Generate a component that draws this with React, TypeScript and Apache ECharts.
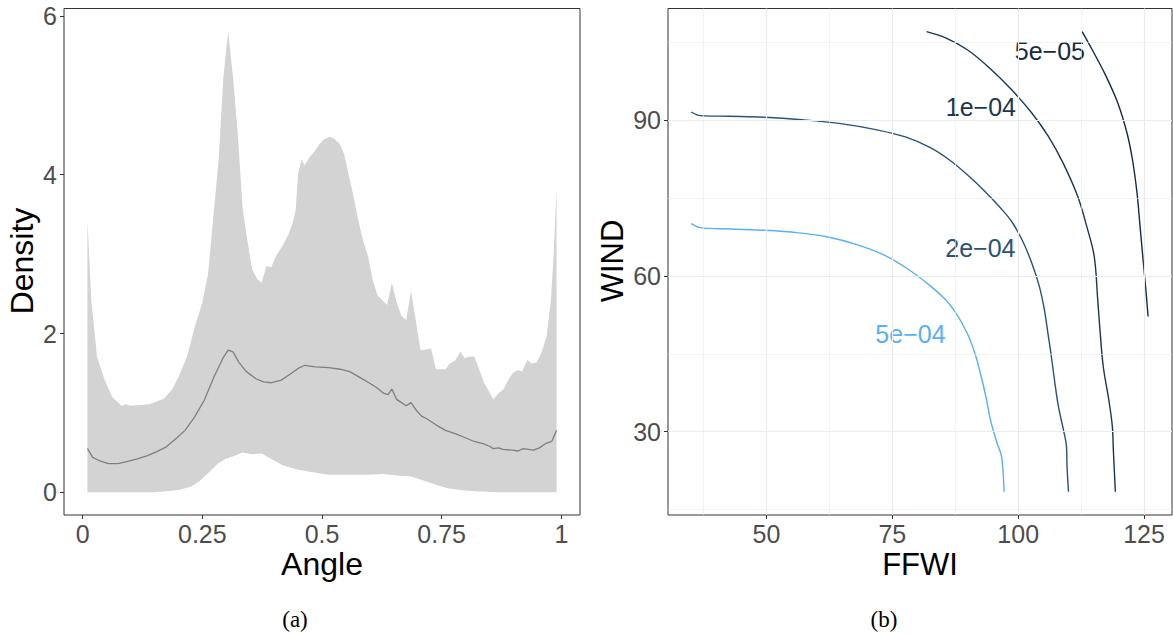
import React, { useEffect, useRef } from "react";
import * as echarts from "echarts";

// ---------- Panel (a): density band and median ----------
const upperX = [0.01, 0.018, 0.03, 0.046, 0.062, 0.081, 0.09, 0.1, 0.12, 0.14, 0.154, 0.17, 0.186, 0.2, 0.218, 0.234, 0.25, 0.262, 0.273, 0.284, 0.294, 0.304, 0.314, 0.324, 0.334, 0.342, 0.354, 0.364, 0.374, 0.384, 0.394, 0.404, 0.418, 0.43, 0.438, 0.445, 0.45, 0.457, 0.464, 0.474, 0.484, 0.494, 0.505, 0.516, 0.526, 0.537, 0.546, 0.554, 0.564, 0.576, 0.586, 0.596, 0.606, 0.616, 0.626, 0.636, 0.646, 0.656, 0.666, 0.676, 0.686, 0.696, 0.706, 0.716, 0.728, 0.738, 0.758, 0.766, 0.778, 0.789, 0.798, 0.808, 0.818, 0.829, 0.838, 0.849, 0.858, 0.869, 0.878, 0.889, 0.898, 0.909, 0.918, 0.929, 0.938, 0.949, 0.958, 0.969, 0.978, 0.984, 0.99];
const upperY = [3.42, 2.42, 1.71, 1.41, 1.2, 1.09, 1.11, 1.09, 1.1, 1.11, 1.14, 1.18, 1.29, 1.45, 1.71, 2.08, 2.39, 2.75, 3.47, 4.18, 5.23, 5.8, 5.23, 4.52, 3.59, 3.25, 2.81, 2.69, 2.64, 2.85, 2.83, 2.98, 3.11, 3.25, 3.38, 3.55, 4.01, 4.19, 4.12, 4.22, 4.29, 4.38, 4.45, 4.48, 4.45, 4.39, 4.26, 4.05, 3.78, 3.42, 3.17, 2.98, 2.67, 2.48, 2.42, 2.36, 2.64, 2.39, 2.22, 2.17, 2.54, 2.16, 1.79, 1.8, 1.81, 1.55, 1.55, 1.62, 1.66, 1.77, 1.69, 1.71, 1.71, 1.54, 1.39, 1.27, 1.17, 1.25, 1.29, 1.41, 1.5, 1.54, 1.52, 1.67, 1.62, 1.64, 1.75, 1.96, 2.4, 3.0, 3.82];

const lowerX = [0.01, 0.15, 0.17, 0.2, 0.226, 0.242, 0.262, 0.282, 0.298, 0.314, 0.334, 0.354, 0.374, 0.394, 0.418, 0.446, 0.474, 0.514, 0.554, 0.594, 0.626, 0.658, 0.686, 0.706, 0.73, 0.762, 0.802, 0.866, 0.99];
const lowerY = [0, 0, 0.01, 0.03, 0.07, 0.13, 0.24, 0.36, 0.42, 0.45, 0.5, 0.48, 0.49, 0.42, 0.34, 0.29, 0.26, 0.22, 0.22, 0.22, 0.23, 0.21, 0.2, 0.16, 0.11, 0.05, 0.02, 0, 0];

const medianX = [0.01, 0.021, 0.034, 0.054, 0.074, 0.094, 0.114, 0.134, 0.154, 0.174, 0.194, 0.214, 0.234, 0.254, 0.274, 0.294, 0.304, 0.314, 0.326, 0.342, 0.362, 0.378, 0.394, 0.414, 0.434, 0.45, 0.464, 0.486, 0.514, 0.538, 0.558, 0.578, 0.598, 0.614, 0.628, 0.638, 0.646, 0.656, 0.666, 0.676, 0.686, 0.696, 0.708, 0.718, 0.738, 0.758, 0.778, 0.798, 0.818, 0.838, 0.85, 0.858, 0.869, 0.878, 0.898, 0.91, 0.92, 0.942, 0.954, 0.969, 0.98, 0.99];
const medianY = [0.55, 0.44, 0.4, 0.36, 0.36, 0.39, 0.42, 0.46, 0.51, 0.57, 0.67, 0.78, 0.95, 1.16, 1.45, 1.7, 1.79, 1.77, 1.64, 1.52, 1.43, 1.39, 1.38, 1.41, 1.49, 1.56, 1.6, 1.58, 1.57, 1.55, 1.52, 1.45, 1.38, 1.32, 1.25, 1.23, 1.3, 1.17, 1.13, 1.09, 1.13, 1.04, 0.96, 0.93, 0.85, 0.78, 0.74, 0.69, 0.64, 0.61, 0.58, 0.55, 0.56, 0.54, 0.53, 0.52, 0.55, 0.53, 0.56, 0.62, 0.64, 0.78];

const angleTicks = [0, 0.25, 0.5, 0.75, 1];
const densityTicks = [0, 2, 4, 6];

// ---------- Panel (b): contours ----------
const c5e04X = [35.06, 36.88, 42.6, 49.85, 56.4, 62.2, 68.1, 73.2, 78.3, 82.65, 85.6, 87.8, 89.9, 91.4, 92.5, 93.6, 94.5, 95.8, 96.7, 97.2];
const c5e04Y = [70.09, 69.32, 69.06, 68.8, 68.3, 67.5, 66.0, 64.1, 61.2, 58.0, 55.4, 52.6, 48.9, 45.1, 41.2, 36.7, 32.2, 27.8, 25.2, 18.4];

const c2e04X = [35.06, 36.88, 42.6, 49.85, 57.1, 64.4, 71.7, 77.6, 82.65, 86.3, 89.9, 93.6, 96.5, 98.7, 100.9, 102.7, 104.2, 105.2, 105.9, 106.5, 107.2, 108.0, 109.0, 109.6, 109.7, 110.0];
const c2e04Y = [91.6, 90.9, 90.77, 90.58, 90.1, 89.4, 88.2, 86.8, 84.7, 82.4, 79.5, 76.1, 73.1, 70.5, 66.7, 62.5, 58.0, 53.5, 49.0, 45.1, 40.0, 34.8, 30.3, 27.1, 23.3, 18.4];

const c1e04X = [81.8, 85.6, 89.9, 94.3, 98.7, 102.7, 106.0, 108.9, 111.8, 113.6, 115.1, 115.8, 116.3, 116.9, 118.0, 118.7, 118.9, 119.3];
const c1e04Y = [107.1, 105.9, 103.6, 100.1, 95.9, 91.4, 86.9, 81.8, 75.4, 69.6, 63.8, 55.4, 48.9, 42.5, 36.1, 31.0, 26.5, 18.4];

const c5e05X = [112.7, 114.7, 117.3, 119.8, 121.6, 122.7, 123.6, 124.2, 124.8, 125.3, 125.8];
const c5e05Y = [107.1, 103.6, 98.8, 93.3, 87.6, 82.4, 76.0, 69.6, 63.2, 58.0, 52.2];

const contourLevels = ["5e\u221205", "1e\u221204", "2e\u221204", "5e\u221204"];
const contourColors = ["#132B43", "#1B3651", "#2A5278", "#56B1F7"];
const labelX = [106.3, 92.6, 92.5, 78.6];
const labelY = [103.3, 92.6, 65.4, 48.9];

const ffwiTicks = [50, 75, 100, 125];
const windTicks = [30, 60, 90];
const ffwiMinor = [37.5, 62.5, 87.5, 112.5];
const windMinor = [15, 45, 75, 105];

const zip = (xs: number[], ys: number[]) => xs.map((x, i) => [x, ys[i]]);

const SANS = "Liberation Sans, Arial, Helvetica, sans-serif";

export default function App() {
  const ref = useRef<HTMLDivElement>(null);

  useEffect(() => {
    document.body.style.margin = "0";
    if (!ref.current) return;
    const chart = echarts.init(ref.current, null, { renderer: "svg" });

    const tickLabel = { color: "#4d4d4d", fontSize: 25, fontFamily: SANS };
    const tickStyle = { show: true, inside: false, length: 4, lineStyle: { color: "#333333", width: 1 } };
    const noLine = { show: false, onZero: false };

    const contourSeries = [
      [c5e05X, c5e05Y],
      [c1e04X, c1e04Y],
      [c2e04X, c2e04Y],
      [c5e04X, c5e04Y],
    ].map(([xs, ys], i) => ({
      type: "line",
      xAxisIndex: 1,
      yAxisIndex: 1,
      data: zip(xs as number[], ys as number[]),
      showSymbol: false,
      symbol: "none",
      smooth: 0.35,
      z: 3,
      lineStyle: { color: contourColors[i], width: 1.4 },
      silent: true,
    }));

    const gridMarkData: any[] = [
      ...ffwiMinor.map((v) => ({ xAxis: v, lineStyle: { width: 0.6 } })),
      ...windMinor.map((v) => ({ yAxis: v, lineStyle: { width: 0.6 } })),
      ...ffwiTicks.map((v) => ({ xAxis: v, lineStyle: { width: 1.2 } })),
      ...windTicks.map((v) => ({ yAxis: v, lineStyle: { width: 1.2 } })),
    ];

    const option: any = {
      animation: false,
      grid: [
        { left: 64, top: 8.5, width: 516, height: 506.5, show: true, borderColor: "#333333", borderWidth: 1, backgroundColor: "#ffffff", containLabel: false },
        { left: 668, top: 8.5, width: 504, height: 506.5, show: true, borderColor: "#333333", borderWidth: 1, backgroundColor: "#ffffff", containLabel: false },
      ],
      xAxis: [
        {
          type: "value", gridIndex: 0, min: -0.039, max: 1.039, position: "bottom",
          axisLine: noLine, splitLine: { show: false },
          axisTick: { ...tickStyle, customValues: angleTicks },
          axisLabel: { ...tickLabel, margin: 6, customValues: angleTicks, formatter: (v: number) => String(v) },
        },
        {
          type: "value", gridIndex: 1, min: 30.45, max: 130.55, position: "bottom",
          axisLine: noLine, splitLine: { show: false },
          axisTick: { ...tickStyle, customValues: ffwiTicks },
          axisLabel: { ...tickLabel, margin: 6, customValues: ffwiTicks, formatter: (v: number) => String(v) },
        },
      ],
      yAxis: [
        {
          type: "value", gridIndex: 0, min: -0.286, max: 6.094, position: "left",
          axisLine: noLine, splitLine: { show: false },
          axisTick: { ...tickStyle, customValues: densityTicks },
          axisLabel: { ...tickLabel, margin: 7, customValues: densityTicks, formatter: (v: number) => String(v) },
        },
        {
          type: "value", gridIndex: 1, min: 13.93, max: 111.55, position: "left",
          axisLine: noLine, splitLine: { show: false },
          axisTick: { ...tickStyle, customValues: windTicks },
          axisLabel: { ...tickLabel, margin: 7, customValues: windTicks, formatter: (v: number) => String(v) },
        },
      ],
      series: [
        {
          type: "custom",
          xAxisIndex: 0,
          yAxisIndex: 0,
          silent: true,
          z: 1,
          data: [[0.5, 2]],
          renderItem: (_params: any, api: any) => {
            const pts: number[][] = [];
            upperX.forEach((x, i) => pts.push(api.coord([x, upperY[i]])));
            for (let i = lowerX.length - 1; i >= 0; i--) pts.push(api.coord([lowerX[i], lowerY[i]]));
            return { type: "polygon", shape: { points: pts }, style: { fill: "#d3d3d3", stroke: "none" } };
          },
        },
        {
          type: "line",
          xAxisIndex: 0,
          yAxisIndex: 0,
          data: zip(medianX, medianY),
          showSymbol: false,
          symbol: "none",
          z: 2,
          silent: true,
          lineStyle: { color: "#7f7f7f", width: 1.3 },
        },
        {
          type: "line",
          xAxisIndex: 1,
          yAxisIndex: 1,
          data: [[50, 50]],
          showSymbol: false,
          symbol: "none",
          z: 1,
          silent: true,
          lineStyle: { width: 0 },
          markLine: {
            silent: true,
            symbol: ["none", "none"],
            label: { show: false },
            lineStyle: { color: "#ebebeb", type: "solid", width: 1.2 },
            data: gridMarkData,
          },
        },
        ...contourSeries,
        {
          type: "scatter",
          xAxisIndex: 1,
          yAxisIndex: 1,
          symbolSize: 0,
          z: 4,
          silent: true,
          itemStyle: { color: "transparent" },
          data: labelX.map((x, i) => ({
            value: [x, labelY[i]],
            name: contourLevels[i],
            label: { color: contourColors[i] },
          })),
          label: {
            show: true,
            position: "inside",
            formatter: "{b}",
            fontSize: 25,
            fontFamily: SANS,
            opacity: 1,
            textBorderWidth: 0,
          },
        },
      ],
      graphic: [
        { type: "text", x: 322, y: 564, style: { text: "Angle", fontSize: 32, fontFamily: SANS, fill: "#000", align: "center", verticalAlign: "middle" } },
        { type: "text", x: 22, y: 261, rotation: Math.PI / 2, style: { text: "Density", fontSize: 32, fontFamily: SANS, fill: "#000", align: "center", verticalAlign: "middle" } },
        { type: "text", x: 920, y: 564, style: { text: "FFWI", fontSize: 31, fontFamily: SANS, fill: "#000", align: "center", verticalAlign: "middle" } },
        { type: "text", x: 612, y: 261, rotation: Math.PI / 2, style: { text: "WIND", fontSize: 31, fontFamily: SANS, fill: "#000", align: "center", verticalAlign: "middle" } },
        { type: "text", x: 295, y: 619, style: { text: "(a)", fontSize: 23, fontFamily: "Liberation Serif, DejaVu Serif, serif", fill: "#000", align: "center", verticalAlign: "middle" } },
        { type: "text", x: 884, y: 619, style: { text: "(b)", fontSize: 23, fontFamily: "Liberation Serif, DejaVu Serif, serif", fill: "#000", align: "center", verticalAlign: "middle" } },
      ],
    };

    chart.setOption(option);
    return () => chart.dispose();
  }, []);

  return <div ref={ref} style={{ width: 1173, height: 634, background: "#ffffff" }} />;
}
